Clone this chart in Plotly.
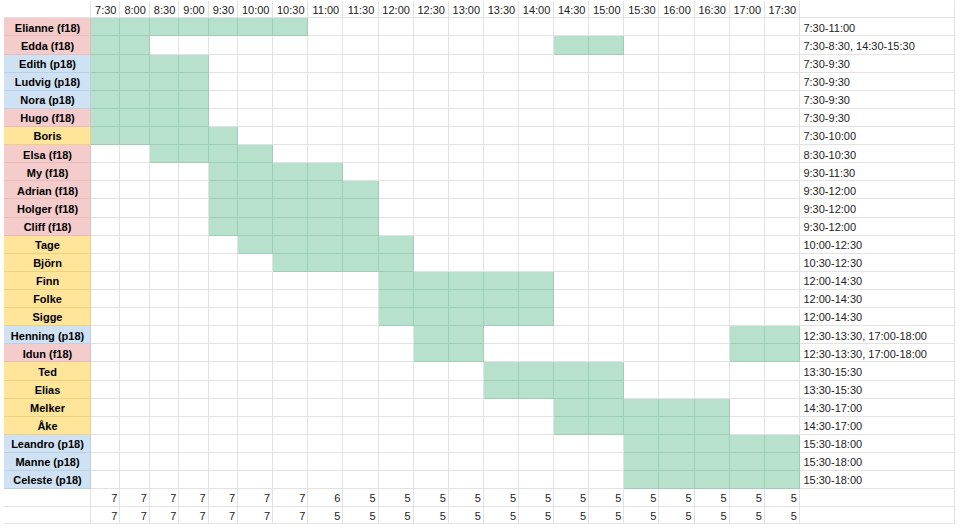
import plotly.graph_objects as go

times = ["7:30", "8:00", "8:30", "9:00", "9:30", "10:00", "10:30", "11:00", "11:30",
         "12:00", "12:30", "13:00", "13:30", "14:00", "14:30", "15:00", "15:30",
         "16:00", "16:30", "17:00", "17:30"]

names = ["Elianne (f18)", "Edda (f18)", "Edith (p18)", "Ludvig (p18)", "Nora (p18)",
         "Hugo (f18)", "Boris", "Elsa (f18)", "My (f18)", "Adrian (f18)", "Holger (f18)",
         "Cliff (f18)", "Tage", "Björn", "Finn", "Folke", "Sigge", "Henning (p18)",
         "Idun (f18)", "Ted", "Elias", "Melker", "Åke", "Leandro (p18)", "Manne (p18)",
         "Celeste (p18)"]

groups = ["f18", "f18", "p18", "p18", "p18", "f18", "", "f18", "f18", "f18", "f18",
          "f18", "", "", "", "", "", "p18", "f18", "", "", "", "", "p18", "p18", "p18"]

ranges = ["7:30-11:00", "7:30-8:30, 14:30-15:30", "7:30-9:30", "7:30-9:30", "7:30-9:30",
          "7:30-9:30", "7:30-10:00", "8:30-10:30", "9:30-11:30", "9:30-12:00",
          "9:30-12:00", "9:30-12:00", "10:00-12:30", "10:30-12:30", "12:00-14:30",
          "12:00-14:30", "12:00-14:30", "12:30-13:30, 17:00-18:00",
          "12:30-13:30, 17:00-18:00", "13:30-15:30", "13:30-15:30", "14:30-17:00",
          "14:30-17:00", "15:30-18:00", "15:30-18:00", "15:30-18:00"]

count_row1 = [7, 7, 7, 7, 7, 7, 7, 6, 5, 5, 5, 5, 5, 5, 5, 5, 5, 5, 5, 5, 5]
count_row2 = [7, 7, 7, 7, 7, 7, 7, 5, 5, 5, 5, 5, 5, 5, 5, 5, 5, 5, 5, 5, 5]

# ---- styling (sizes in pixels of the sheet) ----
col_widths = [87] + [29.4] * 5 + [35.1] * 16 + [155]
header_h = 18
name_h = 18.76
count_h = 18
TEXT_DY = 1.6  # nudge text down to sit centred in the cells

GROUP_CODE = {"f18": 2, "p18": 3, "": 4}
FILL_COLORS = ["#ffffff", "#b7e1cd", "#f4cccc", "#cfe2f3", "#ffe599"]
LINE_COLORS = ["#e2e2e2", "#9ccfb5", "#e6bcbc", "#b9d0e6", "#ecd27f"]
FONT = "Arial, Liberation Sans, sans-serif"


def to_min(t):
    h, m = t.strip().split(":")
    return int(h) * 60 + int(m)


def covered(rng, t):
    tm = to_min(t)
    for part in rng.split(","):
        a, b = part.split("-")
        if to_min(a) <= tm < to_min(b):
            return True
    return False


def discrete_scale(colors):
    k = len(colors)
    scale = []
    for i, c in enumerate(colors):
        scale.append([i / k, c])
        scale.append([(i + 1) / k, c])
    return scale


n = len(names)
ncols = 1 + len(times) + 1

# edges
x_edges = [0.0]
for w in col_widths:
    x_edges.append(x_edges[-1] + w)
row_heights = [header_h] + [name_h] * n + [count_h, count_h]
y_edges = [0.0]
for h in row_heights:
    y_edges.append(y_edges[-1] + h)
W = x_edges[-1]
H = y_edges[-1]
x_mid = [(x_edges[i] + x_edges[i + 1]) / 2 for i in range(ncols)]
y_mid = [(y_edges[i] + y_edges[i + 1]) / 2 + TEXT_DY for i in range(len(row_heights))]

# z matrix
z = [[0] * ncols]
for i in range(n):
    row = [GROUP_CODE[groups[i]]]
    for t in times:
        row.append(1 if covered(ranges[i], t) else 0)
    row.append(0)
    z.append(row)
z.append([0] * ncols)
z.append([0] * ncols)

fig = go.Figure()

# border layer
fig.add_trace(go.Heatmap(
    x=x_edges, y=y_edges, z=z, zmin=0, zmax=len(LINE_COLORS) - 1,
    colorscale=discrete_scale(LINE_COLORS), showscale=False, hoverinfo="skip",
))
# fill layer with gaps showing borders
fig.add_trace(go.Heatmap(
    x=x_edges, y=y_edges, z=z, zmin=0, zmax=len(FILL_COLORS) - 1,
    colorscale=discrete_scale(FILL_COLORS), showscale=False, hoverinfo="skip",
    xgap=1, ygap=1,
))

# header times
fig.add_trace(go.Scatter(
    x=x_mid[1:1 + len(times)], y=[y_mid[0]] * len(times), text=times,
    mode="text", textposition="middle center",
    textfont=dict(family=FONT, size=11, color="#222222"), hoverinfo="skip",
))
# names
fig.add_trace(go.Scatter(
    x=[x_mid[0]] * n, y=y_mid[1:1 + n], text=["<b>%s</b>" % s for s in names],
    mode="text", textposition="middle center",
    textfont=dict(family=FONT, size=11, color="#000000"), hoverinfo="skip",
))
# ranges
fig.add_trace(go.Scatter(
    x=[x_edges[-2] + 3.5] * n, y=y_mid[1:1 + n], text=ranges,
    mode="text", textposition="middle right",
    textfont=dict(family=FONT, size=11, color="#222222"), hoverinfo="skip",
))
# counts
for k, counts in enumerate([count_row1, count_row2]):
    fig.add_trace(go.Scatter(
        x=[x_edges[j + 2] - 3 for j in range(len(times))],
        y=[y_mid[1 + n + k]] * len(times), text=[str(v) for v in counts],
        mode="text", textposition="middle left",
        textfont=dict(family=FONT, size=11, color="#222222"), hoverinfo="skip",
    ))

fig.update_layout(
    width=960, height=532,
    margin=dict(l=4, r=5, t=1, b=8),
    paper_bgcolor="white",
    plot_bgcolor="white",
    showlegend=False,
    xaxis=dict(range=[0, W], visible=False, fixedrange=True),
    yaxis=dict(range=[H, 0], visible=False, fixedrange=True),
)

fig.write_html("out.html", config={"displayModeBar": False},
               post_script="document.body.style.margin='0';document.body.style.overflow='hidden';")
